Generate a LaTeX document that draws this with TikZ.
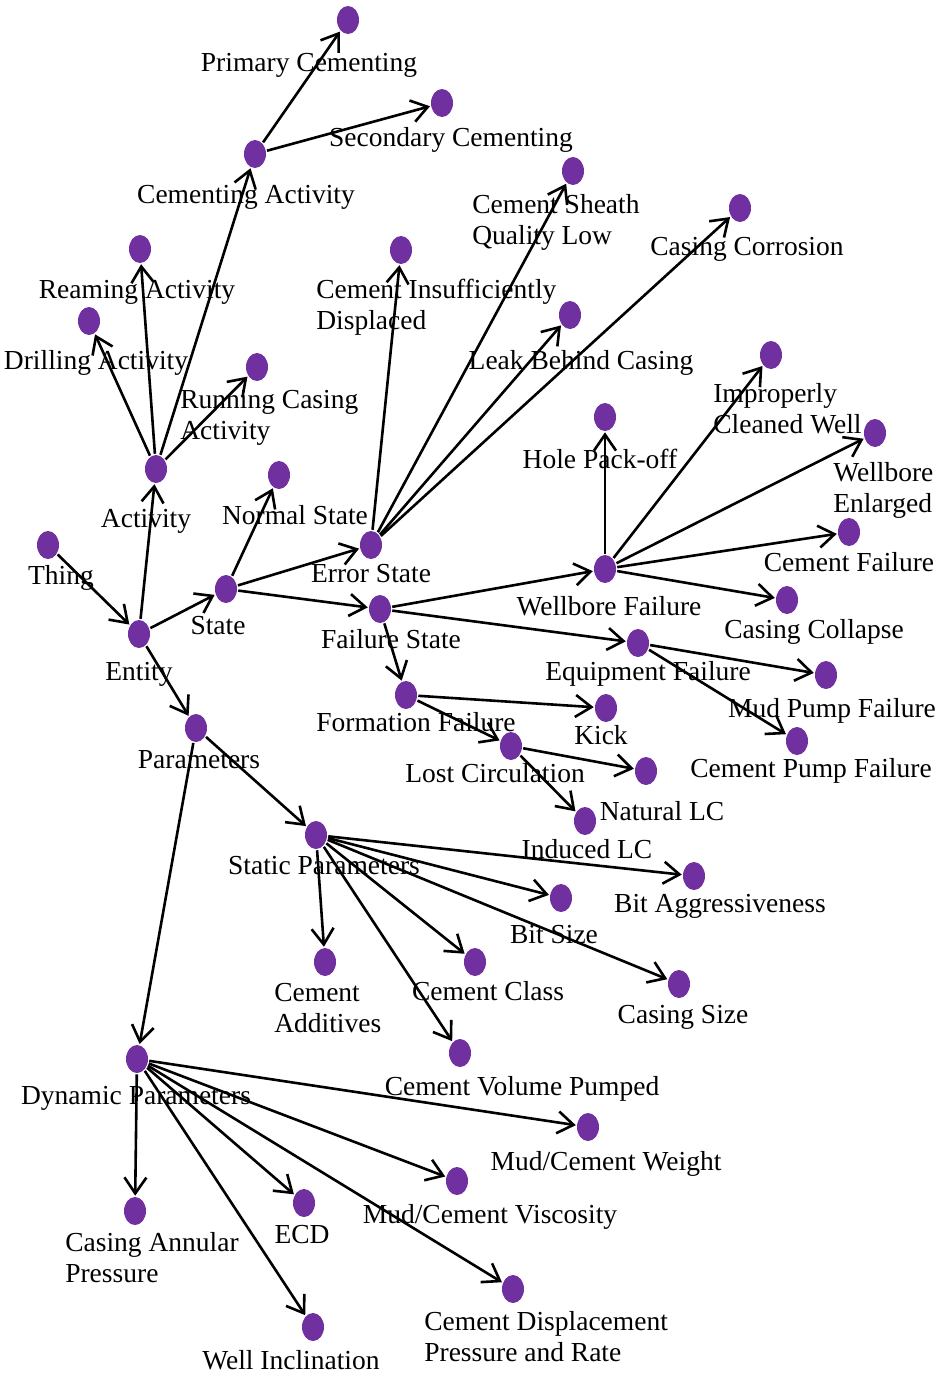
\documentclass[tikz,border=0pt]{standalone}
\usepackage{fontspec}
\setmainfont{Liberation Serif}
\usetikzlibrary{arrows.meta,shapes.geometric}
\definecolor{dotpurple}{RGB}{112,48,160}

\begin{document}
\begin{tikzpicture}[
      x=1pt, y=-1pt,
      dot/.style   = {ellipse, fill=dotpurple, minimum width=22pt, minimum height=28pt, inner sep=0pt},
      lbl/.style   = {inner sep=0pt, align=center, anchor=base, font=\fontsize{27.5pt}{31pt}\selectfont},
      lbll/.style  = {lbl, align=left, anchor=base west},
      every path/.style = {line width=2.6pt, -{Straight Barb[length=16pt,width=22pt,line width=2.6pt]}}
    ]
    \useasboundingbox (0,0) rectangle (944,1374);

    % top level
    \node (thing)    [dot] at (48,545)  {};
    \node (entity)   [dot] at (139,634) {};
    \node (activity) [dot] at (156,469) {};
    \node (state)    [dot] at (226,589) {};
    \node (params)   [dot] at (196,728) {};

    \node (thinglbl)    [lbl] at (61,584)  {Thing};
    \node (entitylbl)   [lbl] at (139,680) {Entity};
    \node (activitylbl) [lbl] at (146,527) {Activity};
    \node (statelbl)    [lbl] at (218,634) {State};
    \node (paramslbl)   [lbl] at (199,768) {Parameters};

    % activities
    \node (ream)    [dot] at (140,249) {};
    \node (drill)   [dot] at (89,321)  {};
    \node (runcas)  [dot] at (257,367) {};
    \node (cemact)  [dot] at (255,154) {};
    \node (primcem) [dot] at (348,20)  {};
    \node (seccem)  [dot] at (442,103) {};

    \node (reamlbl)    [lbl]  at (137,298) {Reaming Activity};
    \node (drilllbl)   [lbl]  at (96,369)  {Drilling Activity};
    \node (runcaslbl)  [lbll] at (179,439) {Running Casing\\Activity};
    \node (cemactlbl)  [lbl]  at (246,203) {Cementing Activity};
    \node (primcemlbl) [lbl]  at (309,71)  {Primary Cementing};
    \node (seccemlbl)  [lbl]  at (451,146) {Secondary Cementing};

    % states
    \node (normal)    [dot] at (279,475) {};
    \node (error)     [dot] at (371,545) {};
    \node (failure)   [dot] at (380,609) {};
    \node (insuff)    [dot] at (401,250) {};
    \node (sheath)    [dot] at (573,171) {};
    \node (corrosion) [dot] at (740,208) {};
    \node (leak)      [dot] at (570,315) {};

    \node (normallbl)    [lbl]  at (295,524) {Normal State};
    \node (errorlbl)     [lbl]  at (371,582) {Error State};
    \node (failurelbl)   [lbl]  at (391,648) {Failure State};
    \node (insufflbl)    [lbll] at (315,329) {Cement Insufficiently\\Displaced};
    \node (sheathlbl)    [lbll] at (471,244) {Cement Sheath\\Quality Low};
    \node (corrosionlbl) [lbl]  at (747,255) {Casing Corrosion};
    \node (leaklbl)      [lbl]  at (581,369) {Leak Behind Casing};

    % failures
    \node (wellfail)  [dot] at (605,569) {};
    \node (packoff)   [dot] at (605,417) {};
    \node (cleaned)   [dot] at (771,355) {};
    \node (enlarged)  [dot] at (875,433) {};
    \node (cemfail)   [dot] at (849,532) {};
    \node (collapse)  [dot] at (787,600) {};
    \node (equip)     [dot] at (638,643) {};
    \node (mudpump)   [dot] at (826,675) {};
    \node (cempump)   [dot] at (797,741) {};
    \node (formation) [dot] at (406,695) {};
    \node (kick)      [dot] at (606,708) {};
    \node (lostcirc)  [dot] at (511,746) {};
    \node (natural)   [dot] at (646,771) {};
    \node (induced)   [dot] at (585,821) {};

    \node (wellfaillbl)  [lbl]  at (609,615) {Wellbore Failure};
    \node (packofflbl)   [lbl]  at (600,468) {Hole Pack-off};
    \node (cleanedlbl)   [lbll] at (712,433) {Improperly\\Cleaned Well};
    \node (enlargedlbl)  [lbll] at (832,512) {Wellbore\\Enlarged};
    \node (cemfaillbl)   [lbl]  at (849,571) {Cement Failure};
    \node (collapselbl)  [lbl]  at (814,638) {Casing Collapse};
    \node (equiplbl)     [lbl]  at (648,680) {Equipment Failure};
    \node (mudpumplbl)   [lbl]  at (832,717) {Mud Pump Failure};
    \node (cempumplbl)   [lbl]  at (811,777) {Cement Pump Failure};
    \node (formationlbl) [lbl]  at (416,731) {Formation Failure};
    \node (kicklbl)      [lbl]  at (601,744) {Kick};
    \node (lostcirclbl)  [lbl]  at (495,782) {Lost Circulation};
    \node (naturallbl)   [lbl]  at (662,820) {Natural LC};
    \node (inducedlbl)   [lbl]  at (587,858) {Induced LC};

    % parameters
    \node (static)      [dot] at (316,835)  {};
    \node (bitaggr)     [dot] at (694,876)  {};
    \node (bitsize)     [dot] at (561,898)  {};
    \node (cemclass)    [dot] at (475,962)  {};
    \node (additives)   [dot] at (325,962)  {};
    \node (cassize)     [dot] at (679,984)  {};
    \node (cemvol)      [dot] at (460,1053) {};
    \node (dynamic)     [dot] at (137,1059) {};
    \node (weight)      [dot] at (588,1127) {};
    \node (viscosity)   [dot] at (457,1181) {};
    \node (ecd)         [dot] at (304,1203) {};
    \node (annular)     [dot] at (135,1211) {};
    \node (displace)    [dot] at (513,1289) {};
    \node (inclination) [dot] at (313,1327) {};

    \node (staticlbl)      [lbl]  at (324,874)  {Static Parameters};
    \node (bitaggrlbl)     [lbl]  at (720,912)  {Bit Aggressiveness};
    \node (bitsizelbl)     [lbl]  at (554,943)  {Bit Size};
    \node (cemclasslbl)    [lbl]  at (488,1000) {Cement Class};
    \node (additiveslbl)   [lbll] at (273,1032) {Cement\\Additives};
    \node (cassizelbl)     [lbl]  at (683,1023) {Casing Size};
    \node (cemvollbl)      [lbl]  at (522,1095) {Cement Volume Pumped};
    \node (dynamiclbl)     [lbl]  at (136,1104) {Dynamic Parameters};
    \node (weightlbl)      [lbl]  at (606,1170) {Mud/Cement Weight};
    \node (viscositylbl)   [lbl]  at (490,1223) {Mud/Cement Viscosity};
    \node (ecdlbl)         [lbl]  at (302,1243) {ECD};
    \node (annularlbl)     [lbll] at (64,1282)  {Casing Annular\\Pressure};
    \node (displacelbl)    [lbll] at (423,1361) {Cement Displacement\\Pressure and Rate};
    \node (inclinationlbl) [lbl]  at (291,1369) {Well Inclination};

    \draw (thing)     to (entity);
    \draw (entity)    to (activity);
    \draw (entity)    to (state);
    \draw (entity)    to (params);

    \draw (activity)  to (ream);
    \draw (activity)  to (drill);
    \draw (activity)  to (runcas);
    \draw (activity)  to (cemact);
    \draw (cemact)    to (primcem);
    \draw (cemact)    to (seccem);

    \draw (state)     to (normal);
    \draw (state)     to (error);
    \draw (state)     to (failure);
    \draw (error)     to (insuff);
    \draw (error)     to (sheath);
    \draw (error)     to (corrosion);
    \draw (error)     to (leak);

    \draw (failure)   to (wellfail);
    \draw (failure)   to (equip);
    \draw (failure)   to (formation);
    \draw (wellfail)  to (packoff);
    \draw (wellfail)  to (cleaned);
    \draw (wellfail)  to (enlarged);
    \draw (wellfail)  to (cemfail);
    \draw (wellfail)  to (collapse);
    \draw (equip)     to (mudpump);
    \draw (equip)     to (cempump);
    \draw (formation) to (kick);
    \draw (formation) to (lostcirc);
    \draw (lostcirc)  to (natural);
    \draw (lostcirc)  to (induced);

    \draw (params)    to (static);
    \draw (params)    to (dynamic);
    \draw (static)    to (bitaggr);
    \draw (static)    to (bitsize);
    \draw (static)    to (cemclass);
    \draw (static)    to (additives);
    \draw (static)    to (cassize);
    \draw (static)    to (cemvol);
    \draw (dynamic)   to (weight);
    \draw (dynamic)   to (viscosity);
    \draw (dynamic)   to (ecd);
    \draw (dynamic)   to (annular);
    \draw (dynamic)   to (displace);
    \draw (dynamic)   to (inclination);

  \end{tikzpicture}
\end{document}
